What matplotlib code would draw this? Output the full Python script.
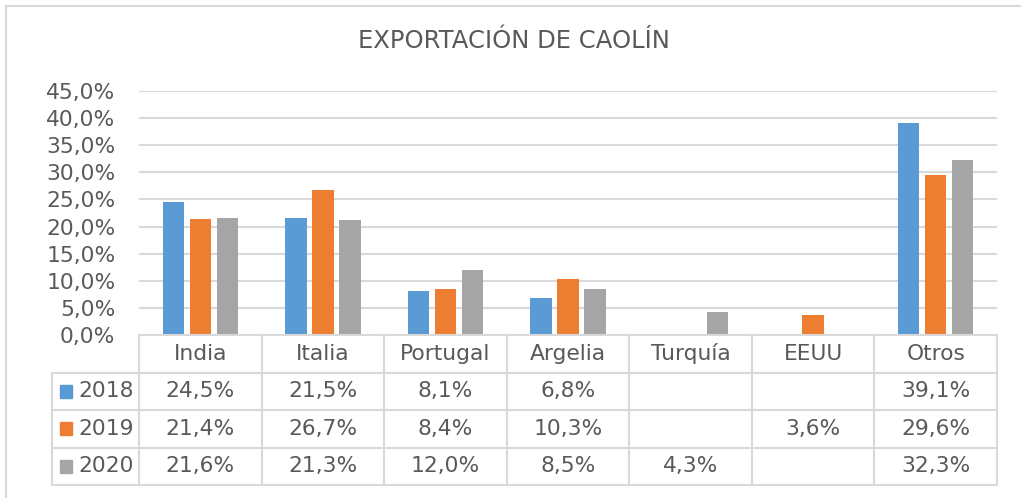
import matplotlib
matplotlib.use("Agg")
import matplotlib.pyplot as plt
from matplotlib.patches import Rectangle
from matplotlib.lines import Line2D
import numpy as np

categories = ["India", "Italia", "Portugal", "Argelia", "Turquía", "EEUU", "Otros"]
years = ["2018", "2019", "2020"]
v2018 = [24.5, 21.5, 8.1, 6.8, None, None, 39.1]
v2019 = [21.4, 26.7, 8.4, 10.3, None, 3.6, 29.6]
v2020 = [21.6, 21.3, 12.0, 8.5, 4.3, None, 32.3]
yticks = [0, 5, 10, 15, 20, 25, 30, 35, 40, 45]
title = "EXPORTACIÓN DE CAOLÍN"
colors = ["#5B9BD5", "#ED7D31", "#A5A5A5"]
text_color = "#595959"
line_color = "#D9D9D9"
fs = 15.7

W, H = 1021, 498
fig = plt.figure(figsize=(W / 100, H / 100), dpi=100)
plt.rcParams["font.family"] = ["DejaVu Sans"]

def fx(px):
    return px / W

def fy(py):
    return 1 - py / H

# chart border (top and left visible)
fig.lines.append(Line2D([fx(6), 1], [fy(6), fy(6)], transform=fig.transFigure,
                        color=line_color, linewidth=1.5))
fig.lines.append(Line2D([fx(6), fx(6)], [fy(6), 0], transform=fig.transFigure,
                        color=line_color, linewidth=1.5))

x0, x1 = 139, 997
ytop, ybot = 91, 335
ax = fig.add_axes([fx(x0), fy(ybot), fx(x1 - x0), (ybot - ytop) / H])
ax.set_xlim(-0.5, len(categories) - 0.5)
ax.set_ylim(0, 45)
ax.set_yticks(yticks)
ax.set_yticklabels([f"{t:.1f}%".replace(".", ",") for t in yticks],
                   fontsize=fs, color=text_color)
ax.set_xticks([])
ax.tick_params(axis="y", length=0, pad=17)
for s in ax.spines.values():
    s.set_visible(False)
ax.grid(axis="y", color=line_color, linewidth=1.5)
ax.set_axisbelow(True)

bw = 0.175
step = 0.22
x = np.arange(len(categories))
for i, vals in enumerate([v2018, v2019, v2020]):
    hv = [v if v is not None else 0 for v in vals]
    ax.bar(x + (i - 1) * step, hv, width=bw, color=colors[i], zorder=3)

fig.text(fx(514), fy(41), title, ha="center", va="center", fontsize=17.5, color=text_color)

# table axes
tl = 52
tb = 485
tax = fig.add_axes([fx(tl), fy(tb), fx(x1 - tl), (tb - ybot) / H])
unit = (x1 - x0) / len(categories)
left_units = (x0 - tl) / unit
tax.set_xlim(-0.5 - left_units, len(categories) - 0.5)
tax.set_ylim(4, 0)
tax.axis("off")
lw = 1.5
tax.plot([-0.5, len(categories) - 0.5], [0, 0], color=line_color, lw=lw, clip_on=False)
for r in [1, 2, 3, 4]:
    tax.plot([-0.5 - left_units, len(categories) - 0.5], [r, r], color=line_color, lw=lw, clip_on=False)
for c in range(len(categories) + 1):
    tax.plot([c - 0.5, c - 0.5], [0, 4], color=line_color, lw=lw, clip_on=False)
tax.plot([-0.5 - left_units] * 2, [1, 4], color=line_color, lw=lw, clip_on=False)

for j, cat in enumerate(categories):
    tax.text(j, 0.5, cat, ha="center", va="center", fontsize=fs, color=text_color)
for i, vals in enumerate([v2018, v2019, v2020]):
    for j, v in enumerate(vals):
        if v is not None:
            tax.text(j, i + 1.5, f"{v:.1f}%".replace(".", ","), ha="center", va="center",
                     fontsize=fs, color=text_color)
    kx = -0.5 - left_units + 8 / unit
    tax.add_patch(Rectangle((kx, i + 1.5 - 0.17), 12 / unit, 0.34, color=colors[i], clip_on=False))
    tax.text(-0.5 - left_units + 26 / unit, i + 1.5, years[i], ha="left", va="center",
             fontsize=fs, color=text_color)

fig.savefig("out.png", dpi=100)
